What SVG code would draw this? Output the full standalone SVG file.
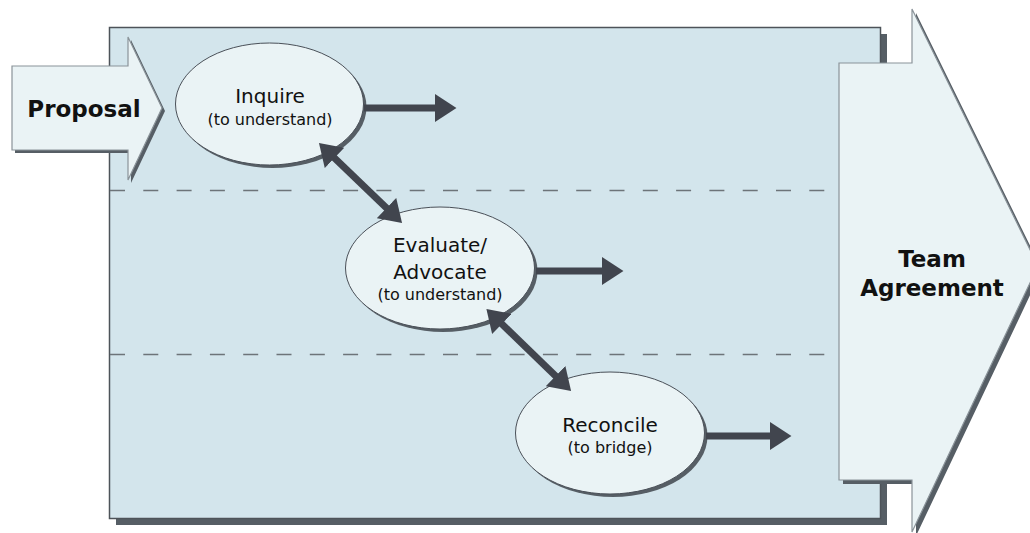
<svg xmlns="http://www.w3.org/2000/svg" width="1030" height="533" viewBox="0 0 1030 533">
  <defs>
    <style>
      .shadow { fill: #565e65; }
      .panel { fill: #d3e5ec; stroke: #4d5359; stroke-width: 1.5; }
      .divider { fill: none; stroke: #6d7479; stroke-width: 1.6; stroke-dasharray: 15 18.3; }
      .bigarrow { fill: #eaf3f5; stroke: #8a9399; stroke-width: 1.2; }
      .bubble { fill: #eaf3f5; stroke: #4a5058; stroke-width: 1; }
      .conn { fill: none; stroke: #41454e; stroke-width: 7; }
      .title { font-family: "DejaVu Sans", sans-serif; font-weight: bold; font-size: 23px; fill: #111; text-anchor: middle; }
      .main { font-family: "DejaVu Sans", sans-serif; font-size: 20px; fill: #111; text-anchor: middle; }
      .sub { font-family: "DejaVu Sans", sans-serif; font-size: 16px; fill: #111; text-anchor: middle; }
    </style>
    <marker id="head" markerUnits="userSpaceOnUse" markerWidth="22" markerHeight="28" viewBox="0 0 20 26" refX="1" refY="13" orient="auto-start-reverse">
      <path d="M0,0 L20,13 L0,26 Z" fill="#41454e"/>
    </marker>
  </defs>

  <g id="panel">
    <rect class="shadow" x="116" y="34" width="771" height="491"/>
    <rect class="panel" x="109.5" y="27.5" width="771" height="491"/>
    <line class="divider" x1="110" y1="190.5" x2="826" y2="190.5"/>
    <line class="divider" x1="110" y1="354.5" x2="826" y2="354.5"/>
  </g>

  <g id="proposal">
    <polygon class="shadow" points="15,69 131,69 131,40 165,111 131,183 131,153 15,153"/>
    <polygon class="bigarrow" points="12,66 128,66 128,37 162,108 128,180 128,150 12,150"/>
    <text class="title" x="84" y="117">Proposal</text>
  </g>

  <g id="team-agreement">
    <polygon class="shadow" points="843,67 916,67 916,13 1042,270 916,536 916,484 843,484"/>
    <polygon class="bigarrow" points="839,63 912,63 912,9 1038,266 912,532 912,480 839,480"/>
    <text class="title" x="932" y="267">Team</text>
    <text class="title" x="932" y="296">Agreement</text>
  </g>

  <g id="inquire">
    <ellipse class="shadow" cx="272.5" cy="107" rx="94" ry="61"/>
    <ellipse class="bubble" cx="269.5" cy="104" rx="94" ry="61"/>
    <text class="main" x="270" y="103">Inquire</text>
    <text class="sub" x="270" y="125">(to understand)</text>
  </g>

  <g id="evaluate">
    <ellipse class="shadow" cx="443" cy="271" rx="94.5" ry="61"/>
    <ellipse class="bubble" cx="440" cy="268" rx="94.5" ry="61"/>
    <text class="main" x="440" y="252">Evaluate/</text>
    <text class="main" x="440" y="279">Advocate</text>
    <text class="sub" x="440" y="300">(to understand)</text>
  </g>

  <g id="reconcile">
    <ellipse class="shadow" cx="613" cy="436" rx="94.5" ry="61"/>
    <ellipse class="bubble" cx="610" cy="433" rx="94.5" ry="61"/>
    <text class="main" x="610" y="432">Reconcile</text>
    <text class="sub" x="610" y="453">(to bridge)</text>
  </g>

  <g id="connectors">
    <line class="conn" x1="364" y1="108" x2="436" y2="108" marker-end="url(#head)"/>
    <line class="conn" x1="536" y1="271" x2="603" y2="271" marker-end="url(#head)"/>
    <line class="conn" x1="706" y1="436" x2="771" y2="436" marker-end="url(#head)"/>
    <line class="conn" x1="333.7" y1="157.2" x2="387.3" y2="208.8" marker-start="url(#head)" marker-end="url(#head)"/>
    <line class="conn" x1="501.1" y1="323.2" x2="556.4" y2="376.8" marker-start="url(#head)" marker-end="url(#head)"/>
  </g>
</svg>
